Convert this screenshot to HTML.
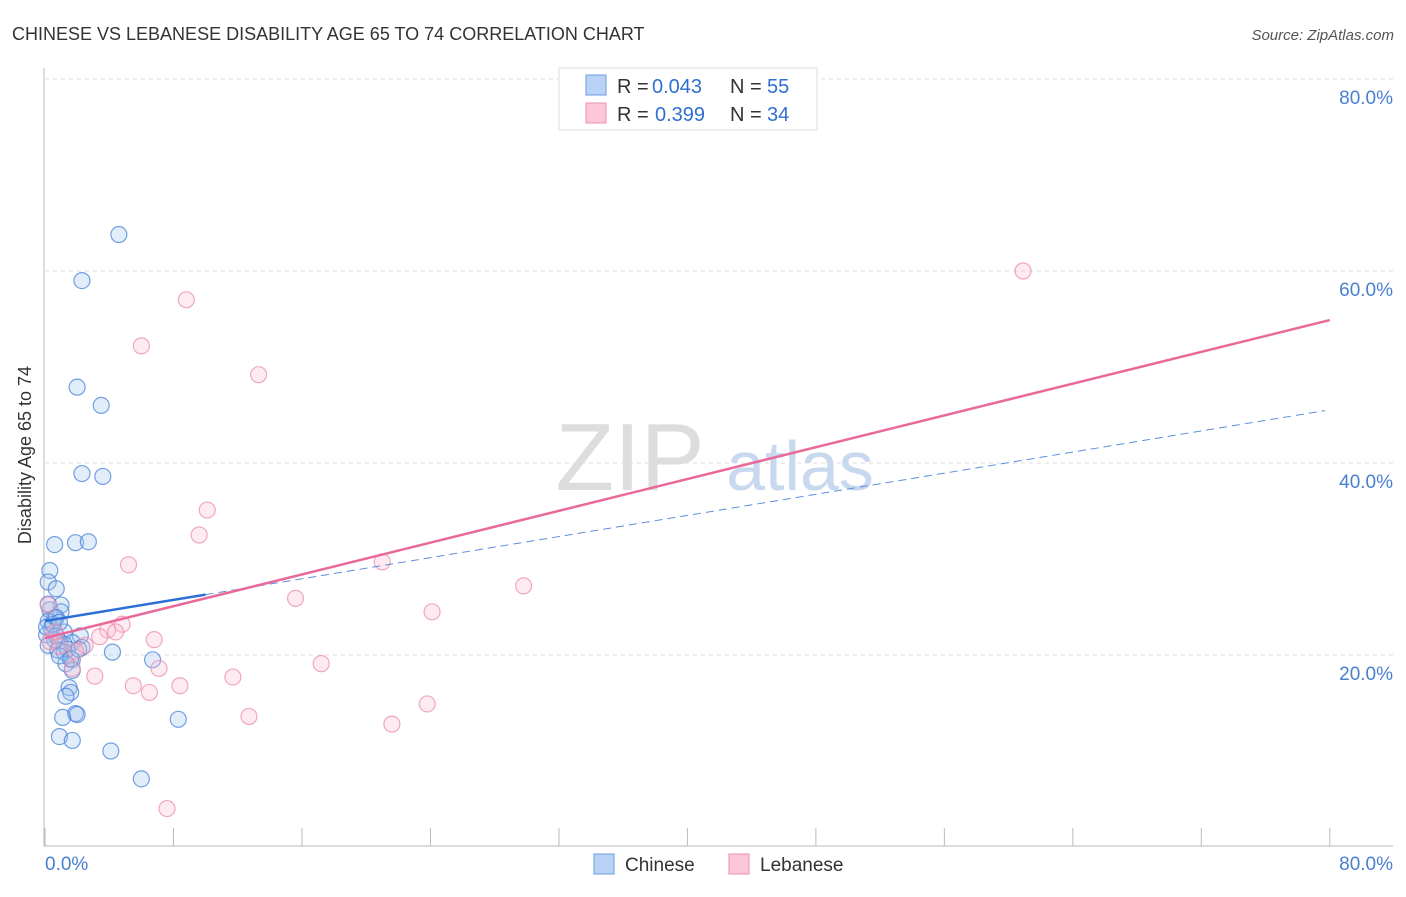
<!DOCTYPE html>
<html><head><meta charset="utf-8"><style>
body{margin:0;background:#fff;font-family:"Liberation Sans",sans-serif}
svg text{font-family:"Liberation Sans",sans-serif}
</style></head><body>
<svg width="1406" height="892" viewBox="0 0 1406 892">
<text x="12" y="40" font-size="18" fill="#333">CHINESE VS LEBANESE DISABILITY AGE 65 TO 74 CORRELATION CHART</text>
<text x="1394" y="40" font-size="15" fill="#555" font-style="italic" text-anchor="end">Source: ZipAtlas.com</text>
<g id="grid"></g>
<text x="630" y="490" font-size="96" fill="#ddd" font-family="Liberation Serif" text-anchor="middle">ZIP</text>
<text x="800" y="490" font-size="70" fill="#c8d8ee" text-anchor="middle">atlas</text>
<g id="pts"></g>
<g id="lines"></g>
<text x="31" y="455" font-size="18" fill="#333" text-anchor="middle" transform="rotate(-90 31 455)">Disability Age 65 to 74</text>
<text x="45" y="870" font-size="19" fill="#4a7fd0">0.0%</text>
<text x="1393" y="870" font-size="19" fill="#4a7fd0" text-anchor="end">80.0%</text>
<g>
<rect x="559" y="68" width="258" height="62" fill="#fff" stroke="#ddd"/>
<rect x="586" y="75" width="20" height="20" fill="#b8d3f5" stroke="#6a9be0"/>
<rect x="586" y="103" width="20" height="20" fill="#fcc8d8" stroke="#eb8fae"/>
<text x="617" y="93" font-size="20" fill="#333">R =</text>
<text x="652" y="93" font-size="20" fill="#2f6fd0">0.043</text>
<text x="730" y="93" font-size="20" fill="#333">N =</text>
<text x="767" y="93" font-size="20" fill="#2f6fd0">55</text>
<text x="617" y="121" font-size="20" fill="#333">R =</text>
<text x="655" y="121" font-size="20" fill="#2f6fd0">0.399</text>
<text x="730" y="121" font-size="20" fill="#333">N =</text>
<text x="767" y="121" font-size="20" fill="#2f6fd0">34</text>
</g>
<g>
<rect x="594" y="854" width="20" height="20" fill="#b8d3f5" stroke="#6a9be0"/>
<text x="625" y="871" font-size="19" fill="#333">Chinese</text>
<rect x="729" y="854" width="20" height="20" fill="#fcc8d8" stroke="#eb8fae"/>
<text x="760" y="871" font-size="19" fill="#333">Lebanese</text>
</g>
</svg>
<script>
const yTicks=[20,40,60,80];
const yTickLabels=["20.0%","40.0%","60.0%","80.0%"];
const xTicks=[0,8,16,24,32,40,48,56,64,72,80];
const chineseX=[4.6,2.3,2.0,3.5,2.3,3.6,0.6,1.9,2.7,0.3,0.2,0.7,1.0,0.3,1.0,0.6,0.2,0.4,1.2,0.1,2.2,0.6,0.9,1.7,1.2,0.2,2.3,0.8,1.2,4.2,6.7,1.7,1.3,1.7,1.5,1.6,1.3,1.9,2.0,1.1,8.3,0.9,1.7,4.1,6.0,0.1,0.5,0.7,0.2,0.9,1.4,0.9,1.6,2.1,0.7];
const chineseY=[63.8,59.0,47.9,46.0,38.9,38.6,31.5,31.7,31.8,28.8,27.6,26.9,25.2,24.7,24.5,23.9,23.5,22.8,22.4,22.1,22.0,21.6,21.4,21.3,21.1,21.0,20.8,20.5,20.3,20.3,19.5,19.5,19.1,18.4,16.6,16.1,15.7,13.9,13.8,13.5,13.3,11.5,11.1,10.0,7.1,22.9,23.2,23.9,25.3,23.4,20.6,19.9,19.6,20.6,22.0];
const lebaneseX=[60.9,8.8,6.0,13.3,10.1,9.6,5.2,21.0,29.8,15.6,24.1,4.8,3.9,4.4,3.4,6.8,2.5,7.1,1.7,17.2,3.1,11.7,5.5,8.4,6.5,12.7,21.6,23.8,7.6,0.2,0.3,0.9,1.9,0.6];
const lebaneseY=[60.0,57.0,52.2,49.2,35.1,32.5,29.4,29.7,27.2,25.9,24.5,23.2,22.6,22.4,21.9,21.6,21.0,18.6,18.6,19.1,17.8,17.7,16.8,16.8,16.1,13.6,12.8,14.9,4.0,25.2,21.4,20.9,20.4,22.4];
const blueTrend=[23.54,0.275,10,79.7];
const pinkTrend=[21.77,0.414,0,80];
const NS="http://www.w3.org/2000/svg";
const X=v=>45+v*16.06, Y=v=>847-v*9.6;
function mk(t,a,p){const e=document.createElementNS(NS,t);for(const k in a)e.setAttribute(k,a[k]);p.appendChild(e);return e;}
const g=document.getElementById('grid');
yTicks.forEach((t,i)=>{
 const l=mk('line',{x1:45,x2:1393,y1:Y(t),y2:Y(t),stroke:'#ddd','stroke-dasharray':'4,4'},g);
 
 
 const tx=mk('text',{x:1393,y:Y(t)+25,'font-size':19,fill:'#4a7fd0','text-anchor':'end'},g);
 tx.textContent=yTickLabels[i];
 
 
});
xTicks.forEach(t=>{
 const l=mk('line',{x1:X(t),x2:X(t),y1:828,y2:846,stroke:'#bbb'},g);
 
 
});
const ax=mk('line',{x1:44,x2:1393,y1:846,y2:846,stroke:'#bbb'},g);


const ay=mk('line',{x1:44,x2:44,y1:68,y2:846,stroke:'#bbb'},g);


const p=document.getElementById('pts');
chineseX.forEach((x,i)=>{
 const c=mk('circle',{cx:X(x),cy:Y(chineseY[i]),r:8,fill:'rgba(160,195,240,0.3)',stroke:'rgba(70,130,215,0.75)','stroke-width':1.2},p);
 
 
});
lebaneseX.forEach((x,i)=>{
 const c=mk('circle',{cx:X(x),cy:Y(lebaneseY[i]),r:8,fill:'rgba(250,190,210,0.3)',stroke:'rgba(235,140,175,0.75)','stroke-width':1.2},p);
 
 
});
const L=document.getElementById('lines');
const b1=mk('line',{x1:X(0),y1:Y(blueTrend[0]),x2:X(blueTrend[2]),y2:Y(blueTrend[0]+blueTrend[1]*blueTrend[2]),stroke:'#2d6fd6','stroke-width':2.5},L);


const b2=mk('line',{x1:X(blueTrend[2]),y1:Y(blueTrend[0]+blueTrend[1]*blueTrend[2]),x2:X(blueTrend[3]),y2:Y(blueTrend[0]+blueTrend[1]*blueTrend[3]),stroke:'#5b8fdc','stroke-width':1,'stroke-dasharray':'8,5'},L);


const pl=mk('line',{x1:X(pinkTrend[2]),y1:Y(pinkTrend[0]),x2:X(pinkTrend[3]),y2:Y(pinkTrend[0]+pinkTrend[1]*pinkTrend[3]),stroke:'#e8699a','stroke-width':2.5},L);


</script>
</body></html>
